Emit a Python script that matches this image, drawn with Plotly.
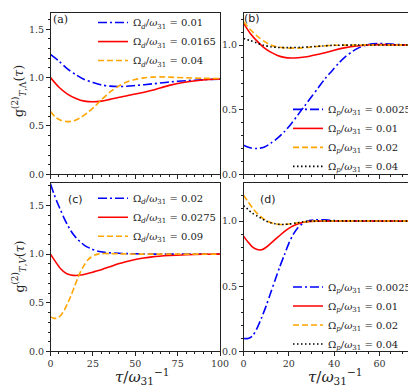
import plotly.graph_objects as go

# ---------------- data ----------------
# panel (a): g2_{T,Lambda}, Omega_d/omega_31
tau_a_blue = [0, 5, 10, 15, 20, 25, 30, 35, 40, 45, 50, 60, 70, 80, 90, 100]
g_a_blue = [1.24, 1.17, 1.09, 1.03, 0.98, 0.95, 0.925, 0.912, 0.908, 0.91, 0.918, 0.935, 0.955, 0.968, 0.978, 0.985]
tau_a_red = [0, 5, 10, 15, 20, 25, 30, 35, 40, 50, 60, 70, 80, 90, 100]
g_a_red = [1.0, 0.90, 0.83, 0.785, 0.757, 0.75, 0.757, 0.775, 0.795, 0.83, 0.87, 0.92, 0.955, 0.975, 0.985]
tau_a_orange = [0, 3, 6, 10, 14, 18, 22, 26, 30, 35, 40, 45, 50, 55, 60, 65, 70, 80, 90, 100]
g_a_orange = [0.65, 0.59, 0.56, 0.545, 0.555, 0.59, 0.64, 0.70, 0.77, 0.85, 0.91, 0.955, 0.98, 0.997, 1.005, 1.008, 1.005, 0.998, 0.993, 0.99]
labels_a = ["0.01", "0.0165", "0.04"]

# panel (b): g2_{T,Lambda}, Omega_p/omega_31
tau_b_blue = [0, 3, 6, 9, 12, 15, 18, 21, 24, 27, 30, 33, 36, 39, 42, 45, 48, 51, 54, 57, 60, 65, 70, 75]
g_b_blue = [0.225, 0.205, 0.2, 0.21, 0.24, 0.28, 0.33, 0.39, 0.46, 0.53, 0.6, 0.67, 0.74, 0.80, 0.86, 0.91, 0.95, 0.98, 1.0, 1.01, 1.012, 1.008, 1.002, 1.0]
tau_b_red = [0, 3, 6, 9, 12, 15, 18, 21, 24, 28, 32, 36, 40, 45, 50, 55, 60, 70, 75]
g_b_red = [1.17, 1.09, 1.03, 0.98, 0.945, 0.92, 0.905, 0.9, 0.902, 0.91, 0.925, 0.94, 0.96, 0.98, 0.993, 1.0, 1.003, 1.0, 1.0]
tau_b_orange = [0, 3, 6, 9, 12, 15, 18, 22, 26, 30, 35, 40, 50, 75]
g_b_orange = [1.18, 1.12, 1.07, 1.03, 1.0, 0.985, 0.978, 0.976, 0.978, 0.985, 0.993, 0.998, 1.0, 1.0]
tau_b_black = [0, 3, 6, 9, 12, 15, 20, 25, 30, 35, 40, 50, 75]
g_b_black = [1.05, 1.035, 1.015, 0.998, 0.987, 0.982, 0.98, 0.982, 0.987, 0.993, 0.998, 1.0, 1.0]
labels_p = ["0.0025", "0.01", "0.02", "0.04"]

# panel (c): g2_{T,V}, Omega_d/omega_31
tau_c_blue = [0, 2, 4, 6, 8, 10, 12, 14, 16, 18, 20, 24, 28, 32, 40, 50, 60, 100]
g_c_blue = [1.72, 1.62, 1.53, 1.45, 1.37, 1.30, 1.24, 1.19, 1.15, 1.12, 1.09, 1.055, 1.03, 1.018, 1.008, 1.003, 1.0, 1.0]
tau_c_red = [0, 3, 6, 9, 12, 15, 18, 22, 26, 30, 35, 40, 45, 50, 55, 60, 70, 80, 90, 100]
g_c_red = [1.0, 0.92, 0.85, 0.805, 0.785, 0.78, 0.785, 0.8, 0.82, 0.84, 0.87, 0.9, 0.925, 0.945, 0.96, 0.972, 0.985, 0.993, 0.998, 1.0]
tau_c_orange = [0, 2, 4, 6, 8, 10, 12, 14, 16, 18, 20, 22, 24, 26, 28, 30, 35, 40, 50, 100]
g_c_orange = [0.355, 0.34, 0.345, 0.37, 0.42, 0.49, 0.57, 0.66, 0.75, 0.83, 0.89, 0.94, 0.97, 0.99, 1.0, 1.005, 1.005, 1.003, 1.0, 1.0]
labels_c = ["0.02", "0.0275", "0.09"]

# panel (d): g2_{T,V}, Omega_p/omega_31
tau_d_blue = [0, 2, 4, 6, 8, 10, 12, 14, 16, 18, 20, 22, 24, 26, 28, 32, 36, 40, 50, 75]
g_d_blue = [0.1, 0.1, 0.12, 0.18, 0.26, 0.35, 0.45, 0.55, 0.65, 0.74, 0.83, 0.9, 0.95, 0.98, 1.0, 1.01, 1.01, 1.005, 1.0, 1.0]
tau_d_red = [0, 2, 4, 6, 8, 10, 12, 14, 16, 18, 20, 22, 25, 28, 32, 75]
g_d_red = [0.885, 0.84, 0.8, 0.782, 0.78, 0.8, 0.83, 0.86, 0.89, 0.92, 0.945, 0.965, 0.985, 0.995, 1.0, 1.0]
tau_d_orange = [0, 2, 4, 6, 8, 10, 12, 14, 16, 18, 20, 23, 26, 30, 75]
g_d_orange = [1.2, 1.15, 1.1, 1.06, 1.03, 1.005, 0.99, 0.98, 0.975, 0.975, 0.978, 0.985, 0.993, 1.0, 1.0]
tau_d_black = [0, 2, 4, 6, 8, 10, 12, 14, 16, 18, 20, 23, 26, 30, 75]
g_d_black = [1.12, 1.09, 1.06, 1.04, 1.02, 1.0, 0.988, 0.98, 0.975, 0.975, 0.978, 0.985, 0.993, 1.0, 1.0]

# ---------------- styles ----------------
BLUE, RED, ORANGE, BLACK = "#0000ff", "#ff0000", "#ffa500", "#000000"
DASHDOT = "9px,3px,2px,3px"
DASH = "6px,3px"
DOT = "1.5px,2.5px"
SERIF = "DejaVu Serif"
OFF = 8               # page body margin of the html
W, H = 416 - OFF, 387 - OFF

fig = go.Figure()

def add(x, y, color, dash, name, xa, ya, leg):
    fig.add_trace(go.Scatter(
        x=x, y=y, mode="lines", name=name, legend=leg,
        line=dict(color=color, dash=dash, width=1.6, shape="spline", smoothing=0.8),
        xaxis=xa, yaxis=ya, hoverinfo="skip"))

def lab_d(v):
    return "Ω<sub><i>d</i></sub>/<i>ω</i><sub>31</sub> = " + v

def lab_p(v):
    return "Ω<sub><i>p</i></sub>/<i>ω</i><sub>31</sub> = " + v

add(tau_a_blue, g_a_blue, BLUE, DASHDOT, lab_d(labels_a[0]), "x", "y", "legend")
add(tau_a_red, g_a_red, RED, "solid", lab_d(labels_a[1]), "x", "y", "legend")
add(tau_a_orange, g_a_orange, ORANGE, DASH, lab_d(labels_a[2]), "x", "y", "legend")

add(tau_b_blue, g_b_blue, BLUE, DASHDOT, lab_p(labels_p[0]), "x2", "y2", "legend2")
add(tau_b_red, g_b_red, RED, "solid", lab_p(labels_p[1]), "x2", "y2", "legend2")
add(tau_b_orange, g_b_orange, ORANGE, DASH, lab_p(labels_p[2]), "x2", "y2", "legend2")
add(tau_b_black, g_b_black, BLACK, DOT, lab_p(labels_p[3]), "x2", "y2", "legend2")

add(tau_c_blue, g_c_blue, BLUE, DASHDOT, lab_d(labels_c[0]), "x3", "y3", "legend3")
add(tau_c_red, g_c_red, RED, "solid", lab_d(labels_c[1]), "x3", "y3", "legend3")
add(tau_c_orange, g_c_orange, ORANGE, DASH, lab_d(labels_c[2]), "x3", "y3", "legend3")

add(tau_d_blue, g_d_blue, BLUE, DASHDOT, lab_p(labels_p[0]), "x4", "y4", "legend4")
add(tau_d_red, g_d_red, RED, "solid", lab_p(labels_p[1]), "x4", "y4", "legend4")
add(tau_d_orange, g_d_orange, ORANGE, DASH, lab_p(labels_p[2]), "x4", "y4", "legend4")
add(tau_d_black, g_d_black, BLACK, DOT, lab_p(labels_p[3]), "x4", "y4", "legend4")

# page pixel -> paper fraction
def px_x(p):
    return (p - OFF) / W

def px_y(p):
    return 1 - (p - OFF) / H

dom_x_left = [px_x(50.5), px_x(220)]
dom_x_right = [px_x(243.5), px_x(413.5)]
dom_y_top = [px_y(171.5), 1.0]
dom_y_bot = [px_y(351), px_y(180)]

tickfont = dict(family=SERIF, size=9.5, color="#333")

def xax(domain, anchor, rng, dtick, minor, labels):
    return dict(domain=domain, anchor=anchor, range=rng, dtick=dtick, tick0=0,
                showline=True, linecolor="#222", linewidth=1, mirror=True,
                ticks="outside", ticklen=3.5, tickcolor="#222", tickwidth=1,
                minor=dict(dtick=minor, ticks="outside", ticklen=2, tickcolor="#222", tickwidth=0.8),
                showgrid=False, zeroline=False, showticklabels=labels,
                tickfont=tickfont, automargin=False, fixedrange=True)

def yax(domain, anchor, rng):
    return dict(domain=domain, anchor=anchor, range=rng, dtick=0.5, tick0=0,
                tickformat=".1f",
                showline=True, linecolor="#222", linewidth=1, mirror=True,
                ticks="outside", ticklen=3.5, tickcolor="#222", tickwidth=1,
                minor=dict(dtick=0.1, ticks="outside", ticklen=2, tickcolor="#222", tickwidth=0.8),
                showgrid=False, zeroline=False,
                tickfont=tickfont, automargin=False, fixedrange=True)

legfont = dict(family=SERIF, size=10, color="#222")

def leg(x, y):
    return dict(x=px_x(x), y=px_y(y), xanchor="left", yanchor="top", xref="paper", yref="paper",
                bgcolor="rgba(0,0,0,0)", borderwidth=0, font=legfont,
                itemwidth=30, tracegroupgap=0)

fig.update_layout(
    width=W, height=H,
    margin=dict(l=0, r=0, t=0, b=0),
    paper_bgcolor="white", plot_bgcolor="white",
    xaxis=xax(dom_x_left, "y", [0, 100], 25, 5, False),
    yaxis=yax(dom_y_top, "x", [0, 1.668]),
    xaxis2=xax(dom_x_right, "y2", [0, 75], 20, 5, False),
    yaxis2=yax(dom_y_top, "x2", [0, 1.248]),
    xaxis3=xax(dom_x_left, "y3", [0, 100], 25, 5, True),
    yaxis3=yax(dom_y_bot, "x3", [0, 1.733]),
    xaxis4=xax(dom_x_right, "y4", [0, 75], 20, 5, True),
    yaxis4=yax(dom_y_bot, "x4", [0, 1.295]),
    legend=leg(93, 3),
    legend2=leg(288, 91),
    legend3=leg(93, 181),
    legend4=leg(288, 271),
    showlegend=True,
)

ann = []
def text(x, y, t, size, family=SERIF, angle=0):
    ann.append(dict(x=px_x(x), y=px_y(y), xref="paper", yref="paper", text=t,
                    showarrow=False, textangle=angle, xanchor="center", yanchor="middle",
                    font=dict(family=family, size=size, color="#222")))

text(60, 15, "(a)", 11)
text(252, 14, "(b)", 11, "DejaVu Sans")
text(75, 197, "(c)", 11, "DejaVu Sans")
text(268, 197, "(d)", 11, "DejaVu Sans")
text(19, 87, "g<sup>(2)</sup><sub><i>T</i>,Λ</sub>(<i>τ</i>)", 12.5, SERIF, -90)
text(19, 265, "g<sup>(2)</sup><sub><i>T</i>,<i>V</i></sub>(<i>τ</i>)", 12.5, SERIF, -90)
text(142, 376, "<i>τ</i>/<i>ω</i><sub>31</sub><sup>−1</sup>", 15)
text(335, 376, "<i>τ</i>/<i>ω</i><sub>31</sub><sup>−1</sup>", 15)
fig.update_layout(annotations=ann)

fig.write_html("out.html")
